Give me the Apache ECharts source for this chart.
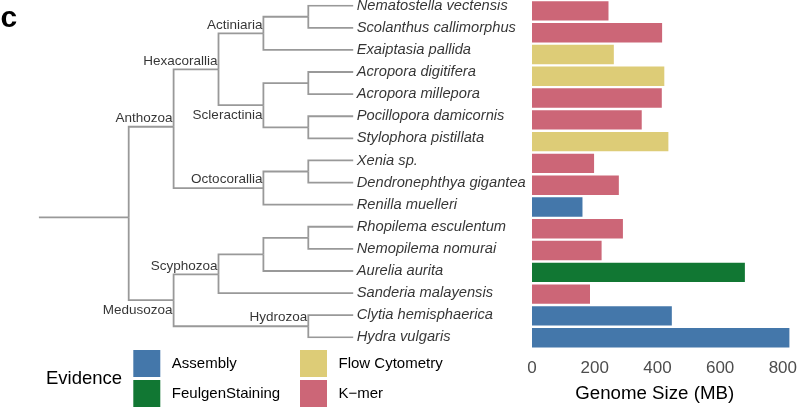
<!DOCTYPE html>
<html>
<head>
<meta charset="utf-8">
<script src="https://cdn.jsdelivr.net/npm/echarts@6/dist/echarts.min.js"></script>
<style>
  html, body { margin: 0; padding: 0; background: #fff; }
  #chart { width: 800px; height: 419px; }
</style>
</head>
<body>
<div id="chart"></div>
<script>
// ---- data ----
const species = [
  'Nematostella vectensis', 'Scolanthus callimorphus', 'Exaiptasia pallida',
  'Acropora digitifera', 'Acropora millepora', 'Pocillopora damicornis',
  'Stylophora pistillata', 'Xenia sp.', 'Dendronephthya gigantea',
  'Renilla muelleri', 'Rhopilema esculentum', 'Nemopilema nomurai',
  'Aurelia aurita', 'Sanderia malayensis', 'Clytia hemisphaerica', 'Hydra vulgaris'
];
const genomeSize = [244, 415, 261, 422, 414, 350, 435, 198, 277, 161, 290, 222, 679, 185, 446, 821];
const evidence = [
  'K−mer', 'K−mer', 'Flow Cytometry', 'Flow Cytometry', 'K−mer', 'K−mer',
  'Flow Cytometry', 'K−mer', 'K−mer', 'Assembly', 'K−mer', 'K−mer',
  'FeulgenStaining', 'K−mer', 'Assembly', 'Assembly'
];
const evidenceTypes = ['Assembly', 'FeulgenStaining', 'Flow Cytometry', 'K−mer'];
const evidenceColors = ['#4477AA', '#117733', '#DDCC77', '#CC6677'];
const xTicks = [0, 200, 400, 600, 800];

// tree (cladogram): internal nodes
const nodeIds     = ['root', 'Anthozoa', 'Hexacorallia', 'Actiniaria', 'nNS', 'Scleractinia', 'nAA', 'nPS', 'Octocorallia', 'nXD', 'Medusozoa', 'Scyphozoa', 'nSA', 'nRN', 'Hydrozoa'];
const nodeParent  = [null, 'root', 'Anthozoa', 'Hexacorallia', 'Actiniaria', 'Hexacorallia', 'Scleractinia', 'Scleractinia', 'Anthozoa', 'Octocorallia', 'root', 'Medusozoa', 'Scyphozoa', 'nSA', 'Medusozoa'];
const nodeDepth   = [0, 1, 2, 3, 4, 3, 4, 4, 3, 4, 1, 2, 3, 4, 4];
const nodeRow     = [9.575, 5.475, 2.88, 1.25, 0.5, 4.5, 3.5, 5.5, 8.25, 7.5, 13.32, 12.15, 11.25, 10.5, 14.5];
const leafParent  = ['nNS', 'nNS', 'Actiniaria', 'nAA', 'nAA', 'nPS', 'nPS', 'nXD', 'nXD', 'Octocorallia', 'nRN', 'nRN', 'nSA', 'Scyphozoa', 'Hydrozoa', 'Hydrozoa'];
const tipDepth = 5;
const rootEdgeStart = -2;
const cladeNames = ['Anthozoa', 'Hexacorallia', 'Actiniaria', 'Scleractinia', 'Octocorallia', 'Medusozoa', 'Scyphozoa', 'Hydrozoa'];
const cladeBelow = ['Scleractinia', 'Medusozoa'];

// ---- build ----
const FONT = 'Liberation Sans, Arial, Helvetica, sans-serif';
const nodeIdx = {};
nodeIds.forEach((id, i) => { nodeIdx[id] = i; });

const edges = [];
nodeIds.forEach((id, i) => {
  const p = nodeParent[i];
  if (p === null) {
    edges.push({ coords: [[rootEdgeStart, nodeRow[i]], [nodeDepth[i], nodeRow[i]]] });
  } else {
    const j = nodeIdx[p];
    edges.push({ coords: [[nodeDepth[j], nodeRow[j]], [nodeDepth[j], nodeRow[i]], [nodeDepth[i], nodeRow[i]]] });
  }
});
species.forEach((s, i) => {
  const j = nodeIdx[leafParent[i]];
  edges.push({ coords: [[nodeDepth[j], nodeRow[j]], [nodeDepth[j], i], [tipDepth, i]] });
});

const tipData = species.map((s, i) => ({ value: [tipDepth, i], name: s }));
const cladeData = cladeNames.map(n => {
  const i = nodeIdx[n];
  const below = cladeBelow.indexOf(n) >= 0;
  return {
    value: [nodeDepth[i], nodeRow[i]],
    name: n,
    label: { offset: [0, below ? 10 : -8.5] }
  };
});

const barSeries = evidenceTypes.map((ev, k) => ({
  name: ev,
  type: 'bar',
  xAxisIndex: 1,
  yAxisIndex: 1,
  stack: 'all',
  barCategoryGap: '11%',
  itemStyle: { color: evidenceColors[k] },
  data: genomeSize.map((v, i) => evidence[i] === ev ? v : '-'),
  silent: true
}));

const chart = echarts.init(document.getElementById('chart'), null, { renderer: 'canvas' });
chart.setOption({
  animation: false,
  backgroundColor: '#ffffff',
  textStyle: { fontFamily: FONT },
  title: [
    { text: 'c', left: 0.5, top: 4, padding: 0,
      textStyle: { fontSize: 30, fontWeight: 'bold', color: '#000', fontFamily: FONT } },
    { text: 'Evidence', left: 46, top: 369.5, padding: 0,
      textStyle: { fontSize: 18.5, fontWeight: 'normal', color: '#000', fontFamily: FONT } }
  ],
  legend: [
    { data: ['Assembly', 'FeulgenStaining'], orient: 'vertical', left: 133.3, top: 350, padding: 0,
      itemWidth: 27, itemHeight: 27, itemGap: 3, icon: 'rect', selectedMode: false,
      textStyle: { fontSize: 15, color: '#000', padding: [0, 0, 0, 6.5], fontFamily: FONT } },
    { data: ['Flow Cytometry', 'K−mer'], orient: 'vertical', left: 300, top: 350, padding: 0,
      itemWidth: 27, itemHeight: 27, itemGap: 3, icon: 'rect', selectedMode: false,
      textStyle: { fontSize: 15, color: '#000', padding: [0, 0, 0, 6.5], fontFamily: FONT } }
  ],
  grid: [
    { left: 38.9, top: 5.7, width: 314.3, height: 331.6, containLabel: false },
    { left: 532, top: 0, width: 260.3, height: 348.6, containLabel: false }
  ],
  xAxis: [
    { gridIndex: 0, type: 'value', min: rootEdgeStart, max: tipDepth, show: false },
    { gridIndex: 1, type: 'value', min: 0, max: 821, interval: 200,
      axisLine: { show: false }, axisTick: { show: false }, splitLine: { show: false },
      axisLabel: { color: '#4d4d4d', fontSize: 17, margin: 11, fontFamily: FONT,
        formatter: v => (xTicks.indexOf(v) >= 0 ? String(v) : '') },
      name: 'Genome Size (MB)', nameLocation: 'middle', nameGap: 36,
      nameTextStyle: { fontSize: 18.7, color: '#000', padding: [0, 12, 0, 0], fontFamily: FONT } }
  ],
  yAxis: [
    { gridIndex: 0, type: 'value', min: 0, max: 15, inverse: true, show: false },
    { gridIndex: 1, type: 'category', data: species, inverse: true, show: false }
  ],
  series: [
    {
      type: 'lines',
      coordinateSystem: 'cartesian2d',
      xAxisIndex: 0, yAxisIndex: 0,
      polyline: true,
      silent: true,
      lineStyle: { color: '#999999', width: 1.8, opacity: 1, curveness: 0 },
      data: edges
    },
    {
      type: 'scatter', xAxisIndex: 0, yAxisIndex: 0, silent: true,
      symbolSize: 1, itemStyle: { color: 'rgba(0,0,0,0)' },
      label: { show: true, position: 'right', distance: 3, formatter: p => p.name,
        fontSize: 14.7, fontStyle: 'italic', color: '#000', fontFamily: FONT },
      data: tipData
    },
    {
      type: 'scatter', xAxisIndex: 0, yAxisIndex: 0, silent: true,
      symbolSize: 1, itemStyle: { color: 'rgba(0,0,0,0)' },
      label: { show: true, position: 'left', distance: 0.5, formatter: p => p.name,
        fontSize: 13.5, color: '#000', fontFamily: FONT },
      data: cladeData
    }
  ].concat(barSeries)
});
</script>
</body>
</html>
